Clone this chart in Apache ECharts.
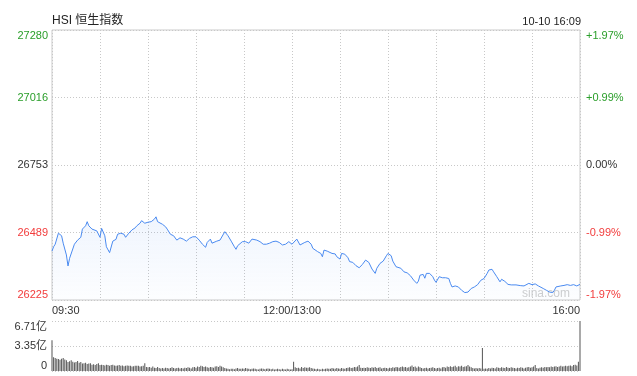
<!DOCTYPE html>
<html>
<head>
<meta charset="utf-8">
<script src="https://cdn.jsdelivr.net/npm/echarts@6/dist/echarts.min.js"></script>
<style>
html,body{margin:0;padding:0;background:#fff;}
#c{width:637px;height:376px;}
</style>
</head>
<body>
<div id="c"></div>
<script>
// ---- data (minutes after 09:30, trading minutes; 150 = 12:00/13:00) ----
const lineMinutes = [0,1,2,4,6,7,9,10,11,12,14,16,18,19,21,22,23,25,26,28,30,31,33,34,36,37,38,40,41,43,45,46,48,50,52,53,55,56,58,60,62,64,65,66,69,71,72,74,76,78,80,82,83,
84,86,88,90,92,94,96,97,99,100,103,105,106,108,109,110,112,114,115,116,119,121,123,125,126,128,130,132,134,136,138,140,142,144,146,148,150,153,155,156,158,160,162,163,164,
166,168,169,170,172,173,175,177,178,180,181,183,185,186,188,190,192,194,196,198,200,202,203,205,207,209,210,212,213,215,218,220,222,224,226,228,229,230,232,233,234,236,238,239,240,242,244,246,
248,249,250,252,254,256,258,259,260,262,264,266,268,270,272,273,275,276,278,280,281,283,284,285,287,290,293,295,296,298,300,302,304,305,307,309,311,313,314,315,318,320,322,324,326,328,329,330];
const linePrices = [26416,26433,26443,26486,26476,26447,26401,26358,26388,26394,26443,26459,26470,26502,26515,26531,26515,26502,26502,26495,26470,26505,26476,26433,26410,26414,26455,26462,26482,26486,26482,26470,26486,26499,26507,26515,26525,26535,26525,26529,26531,26541,26550,26531,26521,26511,26502,26482,26476,26459,26468,26463,26459,
26455,26466,26472,26472,26459,26443,26431,26450,26463,26447,26455,26459,26463,26492,26492,26476,26455,26433,26423,26437,26453,26453,26447,26463,26468,26459,26453,26443,26443,26447,26453,26455,26450,26440,26443,26453,26443,26463,26440,26443,26450,26455,26443,26427,26424,
26414,26407,26394,26420,26416,26414,26407,26405,26394,26385,26407,26404,26390,26375,26372,26359,26351,26364,26381,26372,26346,26329,26349,26368,26377,26398,26407,26398,26377,26355,26349,26335,26331,26320,26303,26290,26299,26322,26325,26310,26329,26329,26316,26303,26294,26316,26312,26312,
26309,26290,26276,26280,26276,26263,26254,26247,26256,26270,26276,26285,26302,26309,26329,26342,26345,26335,26316,26296,26306,26298,26296,26286,26284,26284,26281,26280,26273,26290,26285,26288,26280,26273,26270,26263,26256,26254,26263,26276,26280,26282,26285,26282,26285,26280,26285,26286];

// volume per minute (亿), index = minute
const volumes = [4.14,
1.85,1.75,1.65,1.6,1.5,1.65,1.75,1.55,1.45,1.2,
1.3,1.45,1.25,1.15,1.2,1.35,1.1,1.2,1.0,1.05,
1.1,0.95,1.0,1.05,0.85,0.9,0.8,0.95,1.05,0.8,
0.85,0.8,0.75,0.85,0.8,0.7,0.8,0.85,0.75,0.7,
0.75,0.8,0.7,0.75,0.65,0.7,0.75,0.7,0.7,0.6,
0.65,0.7,0.7,0.7,0.6,0.65,0.7,1.05,0.55,0.5,
0.55,0.45,0.6,0.45,0.4,0.55,0.4,0.35,0.4,0.35,
0.45,0.4,0.35,0.4,0.5,0.4,0.35,0.4,0.45,0.35,
0.4,0.35,0.45,0.4,0.5,0.45,0.35,0.5,0.55,0.45,
0.6,0.55,0.7,0.65,0.55,0.6,0.5,0.45,0.55,0.5,
0.45,0.6,0.65,0.55,0.7,0.6,0.5,0.4,0.35,0.3,
0.25,0.3,0.3,0.25,0.35,0.4,0.3,0.3,0.35,0.3,
0.4,0.35,0.3,0.25,0.3,0.35,0.3,0.25,0.2,0.3,
0.35,0.3,0.25,0.3,0.35,0.3,0.25,0.3,0.2,0.25,
0.3,0.25,0.2,0.3,0.25,0.2,0.3,0.25,0.2,0.25,
1.25,0.5,0.4,0.45,0.35,0.55,0.4,0.5,0.45,0.45,
0.5,0.4,0.35,0.3,0.25,0.3,0.25,0.2,0.3,0.25,
0.3,0.35,0.3,0.3,0.4,0.35,0.3,0.4,0.35,0.3,
0.4,0.35,0.3,0.4,0.45,0.5,0.4,0.45,0.55,0.5,
0.6,0.8,0.45,0.4,0.45,0.4,0.5,0.45,0.4,0.5,
0.45,0.55,0.4,0.45,0.5,0.35,0.4,0.45,0.4,0.35,
0.45,0.4,0.5,0.45,0.55,0.5,0.45,0.55,0.6,0.5,
0.55,0.45,0.5,0.6,0.75,0.55,0.6,0.45,0.6,0.5,
0.4,0.35,0.4,0.45,0.35,0.4,0.45,0.5,0.4,0.35,
0.4,0.45,0.35,0.5,0.55,0.45,0.6,0.55,0.65,0.55,
0.6,0.7,0.5,0.65,0.6,0.7,0.55,0.6,0.65,0.8,
0.6,0.5,0.4,0.35,0.4,0.35,0.4,0.35,3.08,0.3,
0.35,0.3,0.4,0.35,0.45,0.4,0.35,0.5,0.45,0.4,
0.5,0.45,0.4,0.55,0.45,0.4,0.5,0.45,0.4,0.35,
0.45,0.4,0.5,0.45,0.35,0.45,0.5,0.55,0.45,0.5,
0.6,0.8,0.4,0.35,0.45,0.5,0.45,0.55,0.5,0.55,
0.5,0.6,0.55,0.6,0.65,0.55,0.6,0.7,0.6,0.65,
0.7,0.65,0.7,0.75,0.65,0.8,0.85,0.75,1.25,6.71];

// tick labels
const timeTickMinutes = [0,150,330];
const timeTickLabels = ['09:30','12:00/13:00','16:00'];
const priceTickLabels = ['26225','26489','26753','27016','27280'];
const pctTickLabels = ['-1.97%','-0.99%','0.00%','+0.99%','+1.97%'];
const volTickLabels = ['0','3.35亿','6.71亿'];
const titleText = 'HSI 恒生指数';
const dateText = '10-10 16:09';

const GREEN = '#2a9e2a', RED = '#f23c3c', DARK = '#333';
const tickColors = [RED, RED, DARK, GREEN, GREEN];
const FONT = 'Arial, "Liberation Sans", Helvetica, "Noto Sans CJK SC", sans-serif';

const chart = echarts.init(document.getElementById('c'), null, {renderer:'canvas'});

const lineData = lineMinutes.map((m,i)=>[m, linePrices[i]]);
const volData = volumes.map((v,i)=>[i, v]);
const pctIdx = v => Math.round((Number(v) + 1.97) / 0.985);

const option = {
  animation: false,
  textStyle: {fontFamily: FONT},
  grid: [
    {left:52, top:30, width:528, height:270, show:true, borderColor:'#cbcbcb', borderWidth:1, backgroundColor:'transparent'},
    {left:52, top:321, width:528, height:50}
  ],
  xAxis: [
    {type:'value', gridIndex:0, min:0, max:330, interval:30,
     axisLine:{show:false}, axisTick:{show:false},
     splitLine:{show:true, lineStyle:{color:'#c8c8c8', type:[1,2], width:1}},
     axisLabel:{
       formatter: v => { const k = timeTickMinutes.indexOf(Number(v)); return k>=0 ? timeTickLabels[k] : ''; },
       alignMinLabel:'left', alignMaxLabel:'right', margin:5, fontSize:11, color:'#333', fontFamily:FONT
     }},
    {type:'value', gridIndex:1, min:0, max:330, interval:30,
     axisLine:{show:false}, axisTick:{show:false}, splitLine:{show:false}, axisLabel:{show:false}}
  ],
  yAxis: [
    {type:'value', gridIndex:0, min:26225, max:27280, show:false, splitLine:{show:false}},
    {type:'value', gridIndex:0, position:'right', min:-1.97, max:1.97, interval:0.985,
     axisLine:{show:false}, axisTick:{show:false},
     splitLine:{show:true, lineStyle:{color:'#c8c8c8', type:[1,2], width:1}},
     axisLabel:{
       formatter: v => pctTickLabels[pctIdx(v)],
       color: v => tickColors[pctIdx(v)],
       fontSize:11, margin:6, fontFamily:FONT,
       verticalAlignMinLabel:'bottom', verticalAlignMaxLabel:'top'
     }},
    {type:'value', gridIndex:0, position:'left', min:0, max:4, interval:1,
     axisLine:{show:false}, axisTick:{show:false}, splitLine:{show:false},
     axisLabel:{
       formatter: v => priceTickLabels[Math.round(Number(v))],
       color: v => tickColors[Math.round(Number(v))],
       fontSize:11, margin:4, fontFamily:FONT,
       verticalAlignMinLabel:'bottom', verticalAlignMaxLabel:'top'
     }},
    {type:'value', gridIndex:1, position:'left', min:0, max:6.71, interval:3.355,
     axisLine:{show:false}, axisTick:{show:false},
     splitLine:{show:true, lineStyle:{color:'#c8c8c8', type:[1,2], width:1}},
     axisLabel:{
       formatter: v => volTickLabels[Math.round(Number(v)/3.355)],
       color:'#333', fontSize:11, margin:5, fontFamily:FONT,
       verticalAlignMinLabel:'bottom', verticalAlignMaxLabel:'top'
     }}
  ],
  series: [
    {type:'line', xAxisIndex:0, yAxisIndex:0, data:lineData, showSymbol:false, symbol:'none',
     lineStyle:{color:'#4a8af0', width:1},
     areaStyle:{origin:'start', color: new echarts.graphic.LinearGradient(0,0,0,1,[
       {offset:0, color:'rgba(74,138,240,0.12)'},
       {offset:1, color:'rgba(74,138,240,0.02)'}
     ])},
     z:3},
    {type:'bar', xAxisIndex:1, yAxisIndex:3, data:volData, barWidth:1, itemStyle:{color:'#555'}, z:3}
  ],
  graphic: [
    {type:'text', left:52, top:15, style:{text:titleText, fontSize:12, fill:'#222', fontFamily:FONT}},
    {type:'text', right:56, top:16, style:{text:dateText, fontSize:11, fill:'#222', fontFamily:FONT}},
    {type:'text', right:67, top:288, style:{text:'sina.com', fontSize:12, fill:'#cfcfcf', fontFamily:FONT}}
  ]
};
chart.setOption(option);
</script>
</body>
</html>
